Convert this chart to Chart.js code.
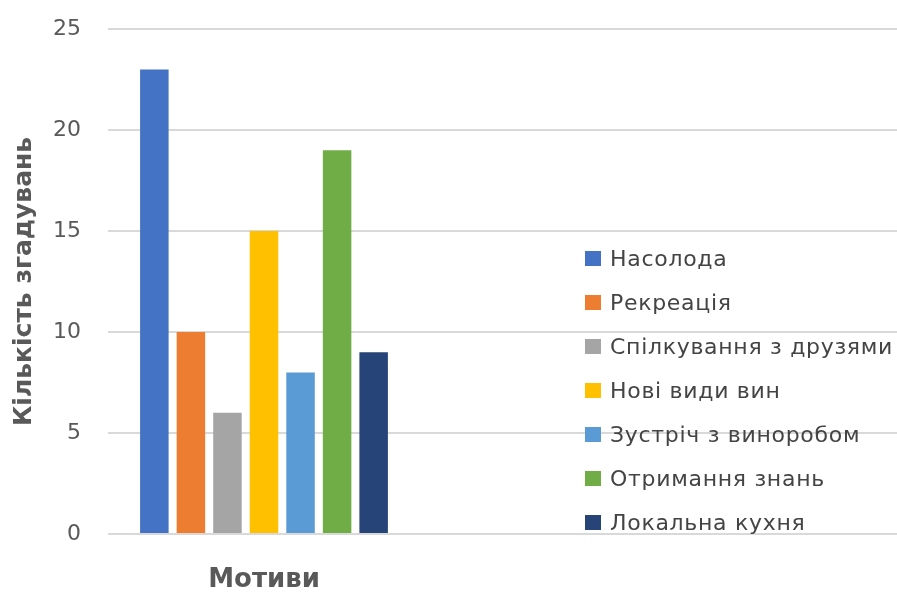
<!DOCTYPE html>
<html lang="uk">
<head>
<meta charset="utf-8">
<title>Мотиви</title>
<script src="https://cdn.jsdelivr.net/npm/chart.js@4"></script>
<style>
    html, body { margin: 0; padding: 0; background: #fff; }
    #wrap { position: relative; width: 897px; height: 599px; overflow: hidden; }
    #legend { position: absolute; left: 585px; top: 236px; font-family: "DejaVu Sans", sans-serif; font-size: 22px; color: #444; letter-spacing: 0.7px; }
    #legend .row { height: 44px; display: flex; align-items: center; white-space: nowrap; }
    #legend .box { width: 16px; height: 15px; margin-right: 9px; flex: none; }
</style>
</head>
<body>
<div id="wrap">
    <canvas id="chart" width="897" height="599"></canvas>
    <div id="legend"></div>
</div>
<script>
// дані
const motives = ['Насолода', 'Рекреація', 'Спілкування з друзями', 'Нові види вин', 'Зустріч з виноробом', 'Отримання знань', 'Локальна кухня'];
const mentions = [23, 10, 6, 15, 8, 19, 9];
const colors = ['#4472C4', '#ED7D31', '#A5A5A5', '#FFC000', '#5B9BD5', '#70AD47', '#264478'];
const yTicks = [0, 5, 10, 15, 20, 25];

const gridColor = '#d9d9d9';

// лінії сітки тягнуться під легенду до правого краю
const extendGrid = {
    id: 'extendGrid',
    beforeDatasetsDraw(chart) {
        const { ctx, chartArea, scales } = chart;
        ctx.save();
        ctx.strokeStyle = gridColor;
        ctx.lineWidth = 2;
        scales.y.ticks.forEach(t => {
            const y = Math.round(scales.y.getPixelForValue(t.value));
            ctx.beginPath();
            ctx.moveTo(chartArea.right, y);
            ctx.lineTo(chart.width, y);
            ctx.stroke();
        });
        ctx.restore();
    }
};

const datasets = motives.map((m, i) => ({
    label: m,
    data: [mentions[i]],
    backgroundColor: colors[i],
    borderWidth: 0
}));

new Chart(document.getElementById('chart'), {
    type: 'bar',
    data: { labels: [''], datasets },
    options: {
        responsive: false,
        animation: false,
        categoryPercentage: 0.82,
        barPercentage: 0.78,
        layout: { padding: { top: 29, right: 477, bottom: 3, left: 0 } },
        plugins: {
            legend: { display: false },
            tooltip: { enabled: false }
        },
        scales: {
            x: {
                grid: { display: false },
                border: { display: false },
                ticks: { display: false },
                title: {
                    display: true,
                    text: 'Мотиви',
                    color: '#595959',
                    font: { family: 'DejaVu Sans', size: 26, weight: 'bold' },
                    padding: { top: 0, bottom: 0 }
                },
                afterFit(scale) { scale.height = 62; }
            },
            y: {
                min: 0,
                max: 25,
                afterBuildTicks(scale) { scale.ticks = yTicks.map(v => ({ value: v })); },
                grid: { color: gridColor, lineWidth: 2, drawTicks: false },
                border: { display: false },
                ticks: {
                    color: '#595959',
                    padding: 27,
                    font: { family: 'DejaVu Sans', size: 22 }
                },
                title: {
                    display: true,
                    text: 'Кількість згадувань',
                    color: '#595959',
                    font: { family: 'DejaVu Sans', size: 25, weight: 'bold' },
                    padding: { top: 9, bottom: 0 }
                },
                afterFit(scale) {
                    scale.width = 108;
                    scale.paddingTop = 0;
                    scale.paddingBottom = 0;
                }
            }
        }
    },
    plugins: [extendGrid]
});

// легенда
const legend = document.getElementById('legend');
motives.forEach((m, i) => {
    const row = document.createElement('div');
    row.className = 'row';
    const box = document.createElement('span');
    box.className = 'box';
    box.style.background = colors[i];
    const txt = document.createElement('span');
    txt.textContent = m;
    row.appendChild(box);
    row.appendChild(txt);
    legend.appendChild(row);
});
</script>
</body>
</html>
